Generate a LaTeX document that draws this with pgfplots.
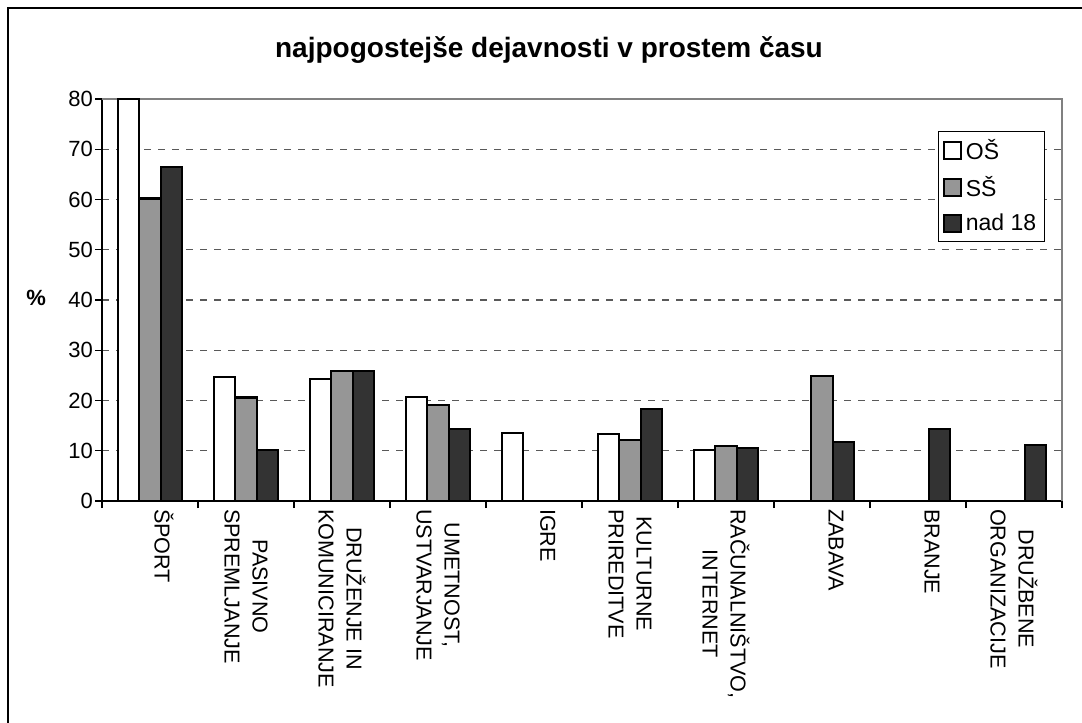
\documentclass[border=0pt]{standalone}
\usepackage{fontspec}
\setmainfont{Liberation Sans}
\usepackage{pgfplots}
\pgfplotsset{compat=1.18}
\definecolor{ssgray}{HTML}{969696}
\definecolor{darkbar}{HTML}{333333}
\begin{document}
\begin{tikzpicture}
\useasboundingbox (0,0) rectangle (541pt,361.5pt);
\draw[line width=1pt] (4pt,0pt) -- (4pt,357.5pt) -- (541pt,357.5pt);
\node[font=\fontsize{14}{16}\selectfont\bfseries] at (274.5pt,336.5pt) {najpogostejše dejavnosti v prostem času};
\node[font=\fontsize{11}{13}\selectfont\bfseries, anchor=east] at (26.5pt,212.5pt) {\%};
\begin{axis}[at={(51pt,111pt)}, anchor=south west, scale only axis, width=480pt, height=201pt,
 ybar=0pt, bar width=10.67pt,
 xmin=-0.5, xmax=9.5, ymin=0, ymax=80,
 ytick={0,10,...,80},
 xtick={0,...,9},
 xticklabels={{ŠPORT\\\mbox{}},{PASIVNO\\SPREMLJANJE},{DRUŽENJE IN\\KOMUNICIRANJE},{UMETNOST,\\USTVARJANJE},{IGRE\\\mbox{}},{KULTURNE\\PRIREDITVE},{RAČUNALNIŠTVO,\\INTERNET},{ZABAVA\\\mbox{}},{BRANJE\\\mbox{}},{DRUŽBENE\\ORGANIZACIJE}},
 minor xtick={-0.5,0.5,...,9.5},
 axis x line*=bottom, axis y line*=left,
 axis line style={-, black, line width=0.9pt},
 tick align=outside,
 major x tick style={draw=none},
 minor x tick style={black, line width=0.6pt},
 ytick style={black, line width=0.6pt},
 major tick length=3.5pt, minor tick length=3.5pt,
 ymajorgrids,
 major grid style={dash pattern=on 3.5pt off 3.5pt, color=black!65, line width=0.6pt},
 /pgf/number format/assume math mode=true,
 yticklabel style={font=\fontsize{11}{13}\selectfont, xshift=2.5pt},
 xticklabel style={rotate=-90, anchor=west, align=center, font=\fontsize{10.8}{14}\selectfont},
 xticklabel shift=-3pt,
 clip=false,
 legend style={at={(0.982,0.920)}, anchor=north east, draw=black, line width=0.5pt,
   font=\fontsize{11.5}{13}\selectfont, row sep=3pt, inner sep=2pt},
 legend cell align=left,
 legend image code/.code={\draw[#1,line width=1pt] (0pt,-4pt) rectangle (8.5pt,4.5pt);},
]
\draw[black!50, line width=0.75pt] (rel axis cs:0,1) -- (rel axis cs:1,1) -- (rel axis cs:1,0);
\addplot[draw=black, line width=1.1pt, fill=white] coordinates {(0,80) (1,24.6) (2,24.3) (3,20.7) (4,13.6) (5,13.4) (6,10.2)};
\addplot[draw=black, line width=1.1pt, fill=ssgray] coordinates {(0,60.2) (1,20.6) (2,25.8) (3,19.1) (5,12.1) (6,11.0) (7,24.8)};
\addplot[draw=black, line width=1.1pt, fill=darkbar] coordinates {(0,66.4) (1,10.1) (2,25.8) (3,14.3) (5,18.3) (6,10.6) (7,11.8) (8,14.3) (9,11.2)};
\legend{OŠ,SŠ,nad 18}
\end{axis}
\end{tikzpicture}
\end{document}
